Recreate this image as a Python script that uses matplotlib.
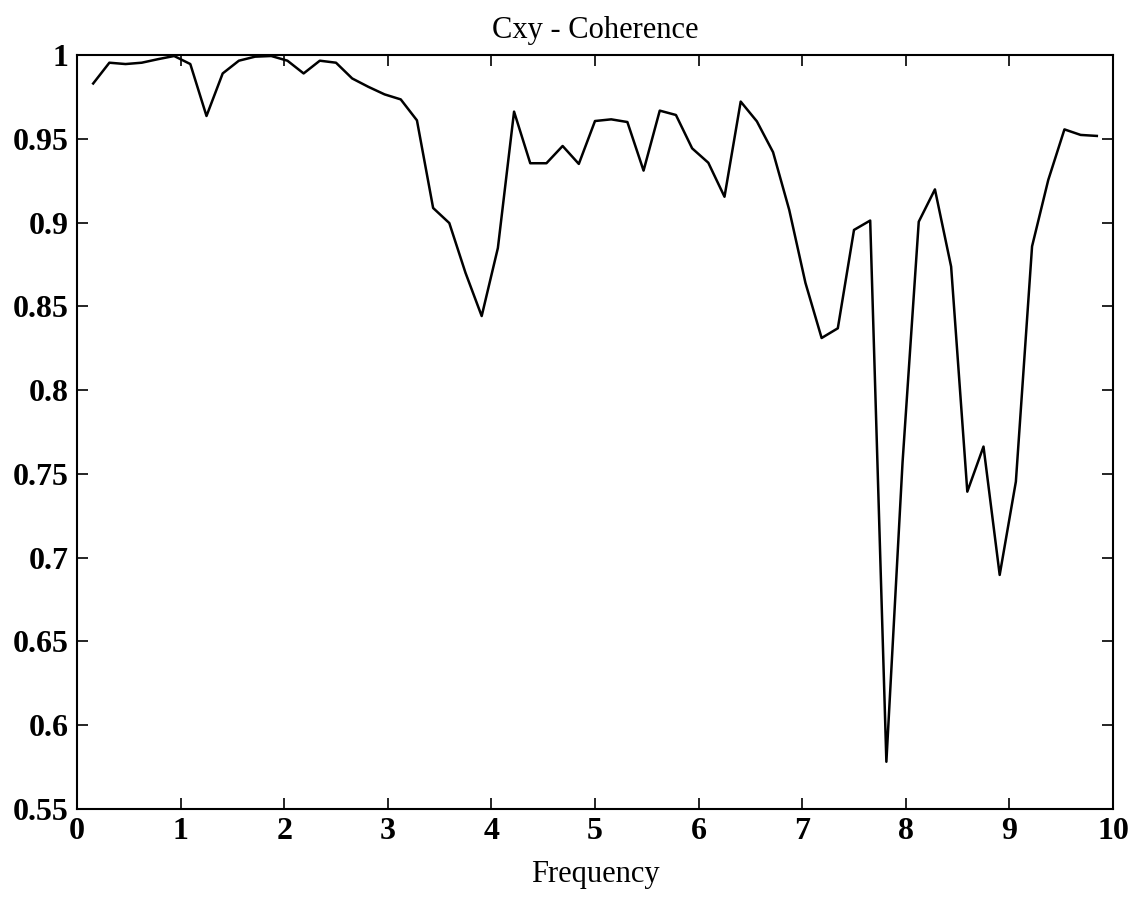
import numpy as np
import matplotlib
matplotlib.use("Agg")
import matplotlib.pyplot as plt

# Frequency bins (k * 10/64, k = 1..63)
freq = np.arange(1, 64) * (10.0 / 64.0)

coherence = [
    0.983, 0.9954, 0.9946, 0.9954, 0.9975, 0.9994, 0.9946, 0.9636, 0.989, 0.9966,
    0.999, 0.9994, 0.9966, 0.989, 0.9966, 0.9954, 0.986, 0.981, 0.9765, 0.9735,
    0.961, 0.9087, 0.8997, 0.870, 0.8442, 0.8848, 0.9662, 0.9354, 0.9354, 0.9457,
    0.935, 0.9606, 0.9616, 0.960, 0.931, 0.9668, 0.9642, 0.9443, 0.9357, 0.9154,
    0.9722, 0.9604, 0.942, 0.9075, 0.864, 0.8311, 0.8369, 0.8956, 0.9012, 0.5782,
    0.757, 0.9005, 0.9198, 0.8737, 0.7394, 0.7663, 0.6897, 0.7454, 0.8858, 0.9254,
    0.9556, 0.9523, 0.9517,
]

xticks = [0, 1, 2, 3, 4, 5, 6, 7, 8, 9, 10]
yticks = [0.55, 0.6, 0.65, 0.7, 0.75, 0.8, 0.85, 0.9, 0.95, 1.0]
yticklabels = ["0.55", "0.6", "0.65", "0.7", "0.75", "0.8", "0.85", "0.9", "0.95", "1"]

plt.rcParams['font.family'] = ['Liberation Serif', 'DejaVu Serif']

fig = plt.figure(figsize=(11.41, 9.17), dpi=100)
ax = fig.add_axes([77 / 1141, 108 / 917, 1036 / 1141, 754 / 917])

ax.plot(freq, coherence, color='black', linewidth=1.8)

ax.set_xlim(0, 10)
ax.set_ylim(0.55, 1.0)
ax.set_xticks(xticks)
ax.set_xticklabels([str(t) for t in xticks])
ax.set_yticks(yticks)
ax.set_yticklabels(yticklabels)

ax.tick_params(axis='both', direction='in', length=8, width=1.2,
               top=True, right=True, labelsize=23)
ax.tick_params(axis='x', pad=6)
ax.tick_params(axis='y', pad=6)
for lbl in ax.get_xticklabels() + ax.get_yticklabels():
    lbl.set_fontweight('bold')

for s in ax.spines.values():
    s.set_linewidth(1.5)

ax.set_title("Cxy - Coherence", fontsize=22, pad=12)
ax.set_xlabel("Frequency", fontsize=22, labelpad=10)

fig.savefig("out.png", dpi=100, facecolor='white')
